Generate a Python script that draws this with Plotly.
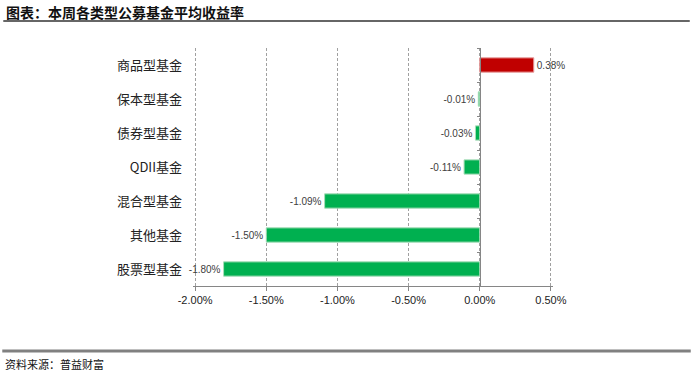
import plotly.graph_objects as go

categories = ["商品型基金", "保本型基金", "债券型基金", "QDII基金", "混合型基金", "其他基金", "股票型基金"]
values = [0.38, -0.01, -0.03, -0.11, -1.09, -1.50, -1.80]
tick_vals = [-2.0, -1.5, -1.0, -0.5, 0.0, 0.5]
tick_text = ["-2.00%", "-1.50%", "-1.00%", "-0.50%", "0.00%", "0.50%"]
title_text = "图表：本周各类型公募基金平均收益率"
source_text = "资料来源：普益财富"

colors = ["#C00000" if v > 0 else "#00B050" for v in values]
edge = ["#E8A0A0" if v > 0 else "#A8DDB9" for v in values]
labels = [f"{v:.2f}%" for v in values]

W, H = 693, 376
pad = 0.015
ml, mr, mt, mb = 195 - 142.4 * pad, 142 - 142.4 * pad, 48, 90
xr = [-2.0 - pad, 0.5 + pad]
zero_frac = (0 - xr[0]) / (xr[1] - xr[0])

fig = go.Figure()
fig.add_trace(go.Bar(
    x=values, y=categories, orientation="h",
    marker=dict(color=colors, line=dict(color=edge, width=1)),
    text=labels, textposition="outside", cliponaxis=False,
    textfont=dict(family="Liberation Sans", size=10, color="#404040"),
    hoverinfo="skip",
))
fig.add_trace(go.Scatter(
    x=values, y=categories, yaxis="y2", mode="markers",
    marker=dict(opacity=0), hoverinfo="skip", showlegend=False,
))

fig.update_layout(
    width=W, height=H,
    margin=dict(l=ml, r=mr, t=mt, b=mb),
    paper_bgcolor="white", plot_bgcolor="white",
    showlegend=False, bargap=0.58,
    xaxis=dict(
        range=xr, tickvals=tick_vals, ticktext=tick_text,
        showgrid=True, gridcolor="#a0a0a0", griddash="3px,2px", gridwidth=1,
        zeroline=False, showline=True, linecolor="#868686", linewidth=1,
        ticks="outside", ticklen=4, tickcolor="#868686",
        tickfont=dict(family="Liberation Sans", size=11, color="#222222"),
        fixedrange=True,
    ),
    yaxis=dict(
        categoryorder="array", categoryarray=categories, autorange="reversed",
        showgrid=False, zeroline=False, showline=False, ticks="",
        ticklabelstandoff=10,
        tickfont=dict(family="Noto Sans CJK SC", size=13, color="#222222"),
        fixedrange=True,
    ),
    yaxis2=dict(
        matches="y", overlaying="y", anchor="free", position=zero_frac, side="left",
        categoryorder="array", categoryarray=categories,
        showline=True, linecolor="#868686", linewidth=1,
        ticks="outside", ticklen=3, tickcolor="#868686", tickson="boundaries",
        showticklabels=False, showgrid=False, zeroline=False,
    ),
    font=dict(family="Noto Sans CJK SC", color="#222222"),
)

pw = W - ml - mr
ph = H - mt - mb
def px_x(p):
    return (p - ml) / pw
def px_y(p):
    return 1 - (p - mt) / ph

fig.add_annotation(
    text=title_text, xref="paper", yref="paper",
    x=px_x(4), y=px_y(12),
    xanchor="left", yanchor="middle", showarrow=False,
    font=dict(family="Noto Sans CJK SC", size=14, color="#111111", weight="bold"),
)
fig.add_annotation(
    text=source_text, xref="paper", yref="paper",
    x=px_x(3), y=px_y(364),
    xanchor="left", yanchor="middle", showarrow=False,
    font=dict(family="Noto Sans CJK SC", size=11, color="#111111"),
)

fig.add_shape(type="line", xref="paper", yref="paper",
              x0=px_x(3), x1=px_x(690), y0=px_y(21), y1=px_y(21),
              line=dict(color="#333333", width=1.5))
fig.add_shape(type="line", xref="paper", yref="paper",
              x0=px_x(2), x1=px_x(691), y0=px_y(351), y1=px_y(351),
              line=dict(color="#808080", width=3))

fig.write_html("out.html", config={"displayModeBar": False},
               post_script="document.body.style.margin='0';document.body.style.overflow='hidden';")
